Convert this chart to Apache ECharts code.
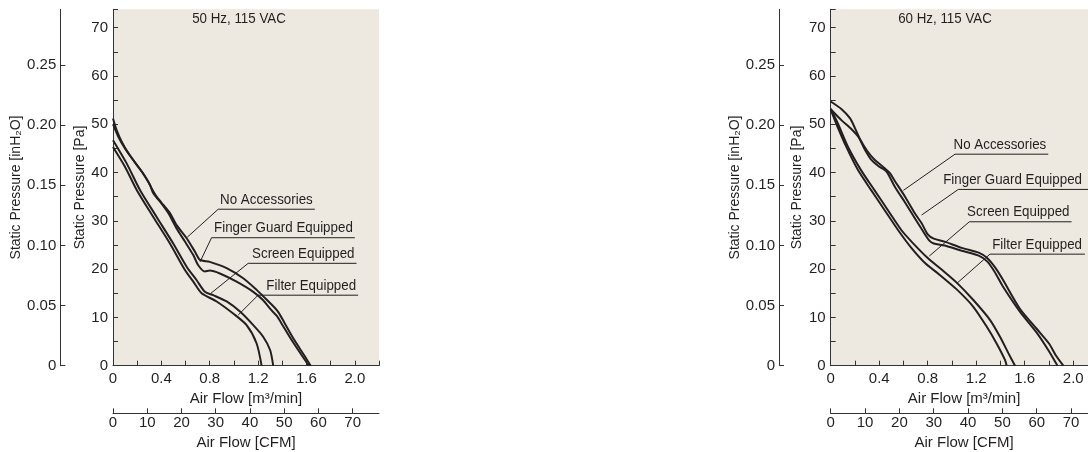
<!DOCTYPE html>
<html><head><meta charset="utf-8">
<script src="https://cdn.jsdelivr.net/npm/echarts@6/dist/echarts.min.js"></script>
<style>html,body{margin:0;padding:0;background:#fff}#c{width:1088px;height:452px}</style>
</head><body><div id="c"></div>
<script>
// ---------- data (Air Flow [m3/min], Static Pressure [Pa]) ----------
const seriesNames = ['No Accessories', 'Finger Guard Equipped', 'Screen Equipped', 'Filter Equipped'];
const panelTitles = ['50 Hz, 115 VAC', '60 Hz, 115 VAC'];

const hz50_noAccessories = [[0,51.2],[0.03,48.8],[0.072,46.4],[0.127,44.0],[0.196,41.6],[0.25,39.8],[0.292,38.1],[0.32,36.7],[0.361,35.0],[0.416,33.3],[0.471,31.6],[0.526,29.1],[0.609,26.4],[0.678,23.6],[0.719,21.9],[0.80,21.5],[0.94,20.2],[1.077,18.1],[1.188,15.7],[1.25,14.2],[1.33,12.2],[1.37,11.0],[1.42,8.8],[1.50,5.3],[1.58,2.2],[1.635,0]];
const hz50_fingerGuard = [[0,50.0],[0.044,47.4],[0.099,45.0],[0.168,42.6],[0.237,40.2],[0.306,37.4],[0.333,35.7],[0.388,34.0],[0.457,31.6],[0.526,28.4],[0.595,25.7],[0.664,22.9],[0.705,20.8],[0.76,19.5],[0.80,19.7],[0.884,19.1],[1.022,17.4],[1.16,15.3],[1.24,13.6],[1.31,11.5],[1.355,10.3],[1.40,8.5],[1.48,5.2],[1.565,2.0],[1.62,0]];
const hz50_screen = [[0,46.7],[0.113,41.9],[0.223,36.4],[0.361,30.8],[0.498,25.3],[0.609,20.5],[0.692,17.7],[0.76,15.3],[0.829,14.6],[0.94,13.3],[1.05,11.2],[1.16,8.4],[1.242,6.0],[1.30,3.2],[1.325,0]];
const hz50_filter = [[0,45.3],[0.099,41.2],[0.196,36.4],[0.333,30.8],[0.471,25.3],[0.595,19.8],[0.664,17.4],[0.733,15.0],[0.857,13.3],[0.994,10.8],[1.105,8.4],[1.188,4.6],[1.229,0]];

const hz60_noAccessories = [[0,54.7],[0.09,53.1],[0.16,51.2],[0.2,49.2],[0.24,47.0],[0.3,44.5],[0.36,42.7],[0.43,41.2],[0.49,39.8],[0.53,38.2],[0.613,35.0],[0.695,31.5],[0.75,29.5],[0.8,27.2],[0.85,26.3],[0.94,25.7],[1.08,24.4],[1.22,23.4],[1.29,22.3],[1.36,20.2],[1.42,17.8],[1.56,11.8],[1.70,7.6],[1.8,4.6],[1.86,2.0],[1.918,0]];
const hz60_fingerGuard = [[0,53.1],[0.09,50.8],[0.17,49.0],[0.23,47.3],[0.28,44.8],[0.33,42.8],[0.39,41.4],[0.46,40.2],[0.53,37.0],[0.613,33.8],[0.695,30.5],[0.75,28.3],[0.81,26.0],[0.85,25.3],[0.94,24.9],[1.08,23.8],[1.22,22.8],[1.29,21.6],[1.35,19.5],[1.42,16.4],[1.56,11.2],[1.70,6.8],[1.80,3.0],[1.87,0]];
const hz60_screen = [[0,53.2],[0.06,50.1],[0.143,45.3],[0.25,40.5],[0.362,36.3],[0.472,32.2],[0.582,28.1],[0.67,25.6],[0.8,22.3],[0.92,19.8],[1.039,17.2],[1.176,13.6],[1.313,9.5],[1.396,6.0],[1.465,2.6],[1.52,0]];
const hz60_filter = [[0,53.0],[0.046,50.1],[0.129,45.3],[0.225,40.5],[0.335,36.3],[0.445,32.2],[0.555,28.1],[0.665,24.4],[0.78,21.2],[0.89,19.0],[1.039,15.8],[1.176,12.2],[1.286,8.1],[1.368,4.6],[1.437,1.2],[1.451,0]];

// tick labels
const flowM3Labels = [0, 0.4, 0.8, 1.2, 1.6, 2.0];
const flowCfmLabels = [0, 10, 20, 30, 40, 50, 60, 70];
const pressPaLabels = [0, 10, 20, 30, 40, 50, 60, 70];
const pressInLabels = [0, 0.05, 0.10, 0.15, 0.20, 0.25];

// ---------- annotations (data coordinates: anchor on curve, elbow, underline end) ----------
const annotations = [
  [ // 50 Hz
    {name: seriesNames[0], anchor:[0.614,26.6], elbow:[0.87,32.4], end:[1.669,32.4]},
    {name: seriesNames[1], anchor:[0.72,21.5], elbow:[0.815,26.5], end:[2.0,26.5]},
    {name: seriesNames[2], anchor:[0.81,15.0], elbow:[1.118,21.2], end:[2.014,21.2]},
    {name: seriesNames[3], anchor:[1.036,10.5], elbow:[1.2,14.6], end:[2.027,14.6]}
  ],
  [ // 60 Hz
    {name: seriesNames[0], anchor:[0.599,36.3], elbow:[1.025,43.8], end:[1.794,43.8]},
    {name: seriesNames[1], anchor:[0.75,31.2], elbow:[1.052,36.5], end:[2.2,36.5]},
    {name: seriesNames[2], anchor:[0.813,22.7], elbow:[1.143,29.8], end:[1.986,29.8]},
    {name: seriesNames[3], anchor:[1.038,17.0], elbow:[1.313,23.1], end:[2.096,23.1]}
  ]
];

// ---------- layout / style ----------
const X_MAX = 2.2, Y_MAX = 73.8;
const PA_PER_INH2O = 249.089, CFM_PER_M3 = 35.3147;
const FONT = '"Liberation Sans Narrow","Arial Narrow","Liberation Sans",sans-serif';
const INK = '#231f20', AXIS = '#333';
const NARROW = 0.89;
const panels = [
  {left: 113, width: 266, inOffset: 52.7, paGap: 26, inGap: 35, titleX: 239},
  {left: 830.7, width: 266.8, inOffset: 51.7, paGap: 27, inGap: 37, titleX: 945}
];
const panelData = [
  [hz50_noAccessories, hz50_fingerGuard, hz50_screen, hz50_filter],
  [hz60_noAccessories, hz60_fingerGuard, hz60_screen, hz60_filter]
];

const txt = (size) => ({color: INK, fontFamily: FONT, fontSize: size});
const axLine = {show: true, onZero: false, lineStyle: {color: AXIS, width: 1}};

const grid = [], xAxis = [], yAxis = [], series = [];
panels.forEach((p, i) => {
  grid.push({left: p.left, width: p.width, top: 9.3, height: 356.4, show: true,
    backgroundColor: '#ede9e1', borderWidth: 0, containLabel: false, outerBoundsMode: 'none'});
  // m3/min axis
  xAxis.push({type: 'value', gridIndex: i, min: 0, max: X_MAX, interval: 0.2,
    axisLine: axLine, splitLine: {show: false},
    axisTick: {inside: true, length: 5, lineStyle: {color: AXIS}},
    axisLabel: Object.assign(txt(15), {margin: 6, customValues: flowM3Labels,
      formatter: v => v === 0 ? '0' : v.toFixed(1)}),
    name: 'Air Flow [m³/min]', nameLocation: 'middle', nameGap: 23, nameTextStyle: txt(15)});
  // CFM axis
  xAxis.push({type: 'value', gridIndex: i, position: 'bottom', offset: 47.6,
    min: 0, max: X_MAX * CFM_PER_M3,
    axisLine: axLine, splitLine: {show: false},
    axisTick: {inside: true, length: 5, customValues: flowCfmLabels, lineStyle: {color: AXIS}},
    axisLabel: Object.assign(txt(15), {margin: 2, customValues: flowCfmLabels}),
    name: 'Air Flow [CFM]', nameLocation: 'middle', nameGap: 21, nameTextStyle: txt(15)});
  // Pa axis
  yAxis.push({type: 'value', gridIndex: i, min: 0, max: Y_MAX, interval: 5,
    axisLine: axLine, splitLine: {show: false},
    axisTick: {inside: true, length: 5, lineStyle: {color: AXIS}},
    axisLabel: Object.assign(txt(15), {margin: 5, customValues: pressPaLabels}),
    name: 'Static Pressure [Pa]', nameLocation: 'middle', nameGap: p.paGap, nameRotate: 90,
    nameTextStyle: txt(14)});
  // inH2O axis
  yAxis.push({type: 'value', gridIndex: i, position: 'left', offset: p.inOffset,
    min: 0, max: Y_MAX / PA_PER_INH2O,
    axisLine: axLine, splitLine: {show: false},
    axisTick: {inside: true, length: 5, customValues: pressInLabels, lineStyle: {color: AXIS}},
    axisLabel: Object.assign(txt(15), {margin: 4, customValues: pressInLabels,
      formatter: v => v === 0 ? '0' : v.toFixed(2)}),
    name: 'Static Pressure [inH₂O]', nameLocation: 'middle', nameGap: p.inGap, nameRotate: 90,
    nameTextStyle: txt(14)});

  panelData[i].forEach((d, k) => {
    series.push({type: 'line', name: seriesNames[k], xAxisIndex: 2 * i, yAxisIndex: 2 * i,
      data: d, smooth: 0.25, showSymbol: false, silent: true, animation: false,
      lineStyle: {color: INK, width: 2}});
  });
  annotations[i].forEach(a => {
    series.push({type: 'line', xAxisIndex: 2 * i, yAxisIndex: 2 * i,
      data: [a.anchor, a.elbow, a.end], showSymbol: false, silent: true, animation: false,
      lineStyle: {color: INK, width: 1}, z: 3});
  });
});

const chart = echarts.init(document.getElementById('c'), null, {renderer: 'canvas'});
chart.setOption({animation: false, backgroundColor: '#fff', grid, xAxis, yAxis, series});

// panel titles and annotation texts, placed through the axes' own scales
const graphic = [];
panels.forEach((p, i) => {
  graphic.push({type: 'text', x: p.titleX, y: 19, scaleX: NARROW, silent: true,
    style: {text: panelTitles[i], fill: INK, font: '15px ' + FONT, textAlign: 'center', textVerticalAlign: 'middle'}});
});
annotations.forEach((list, i) => {
  list.forEach(a => {
    const pt = chart.convertToPixel({xAxisIndex: 2 * i, yAxisIndex: 2 * i}, a.end);
    graphic.push({type: 'text', x: Math.min(pt[0] - 2, 1082), y: pt[1] - 2, scaleX: NARROW, silent: true,
      style: {text: a.name, fill: INK, font: '15px ' + FONT, textAlign: 'right', textVerticalAlign: 'bottom'}});
  });
});
chart.setOption({graphic});
</script></body></html>
